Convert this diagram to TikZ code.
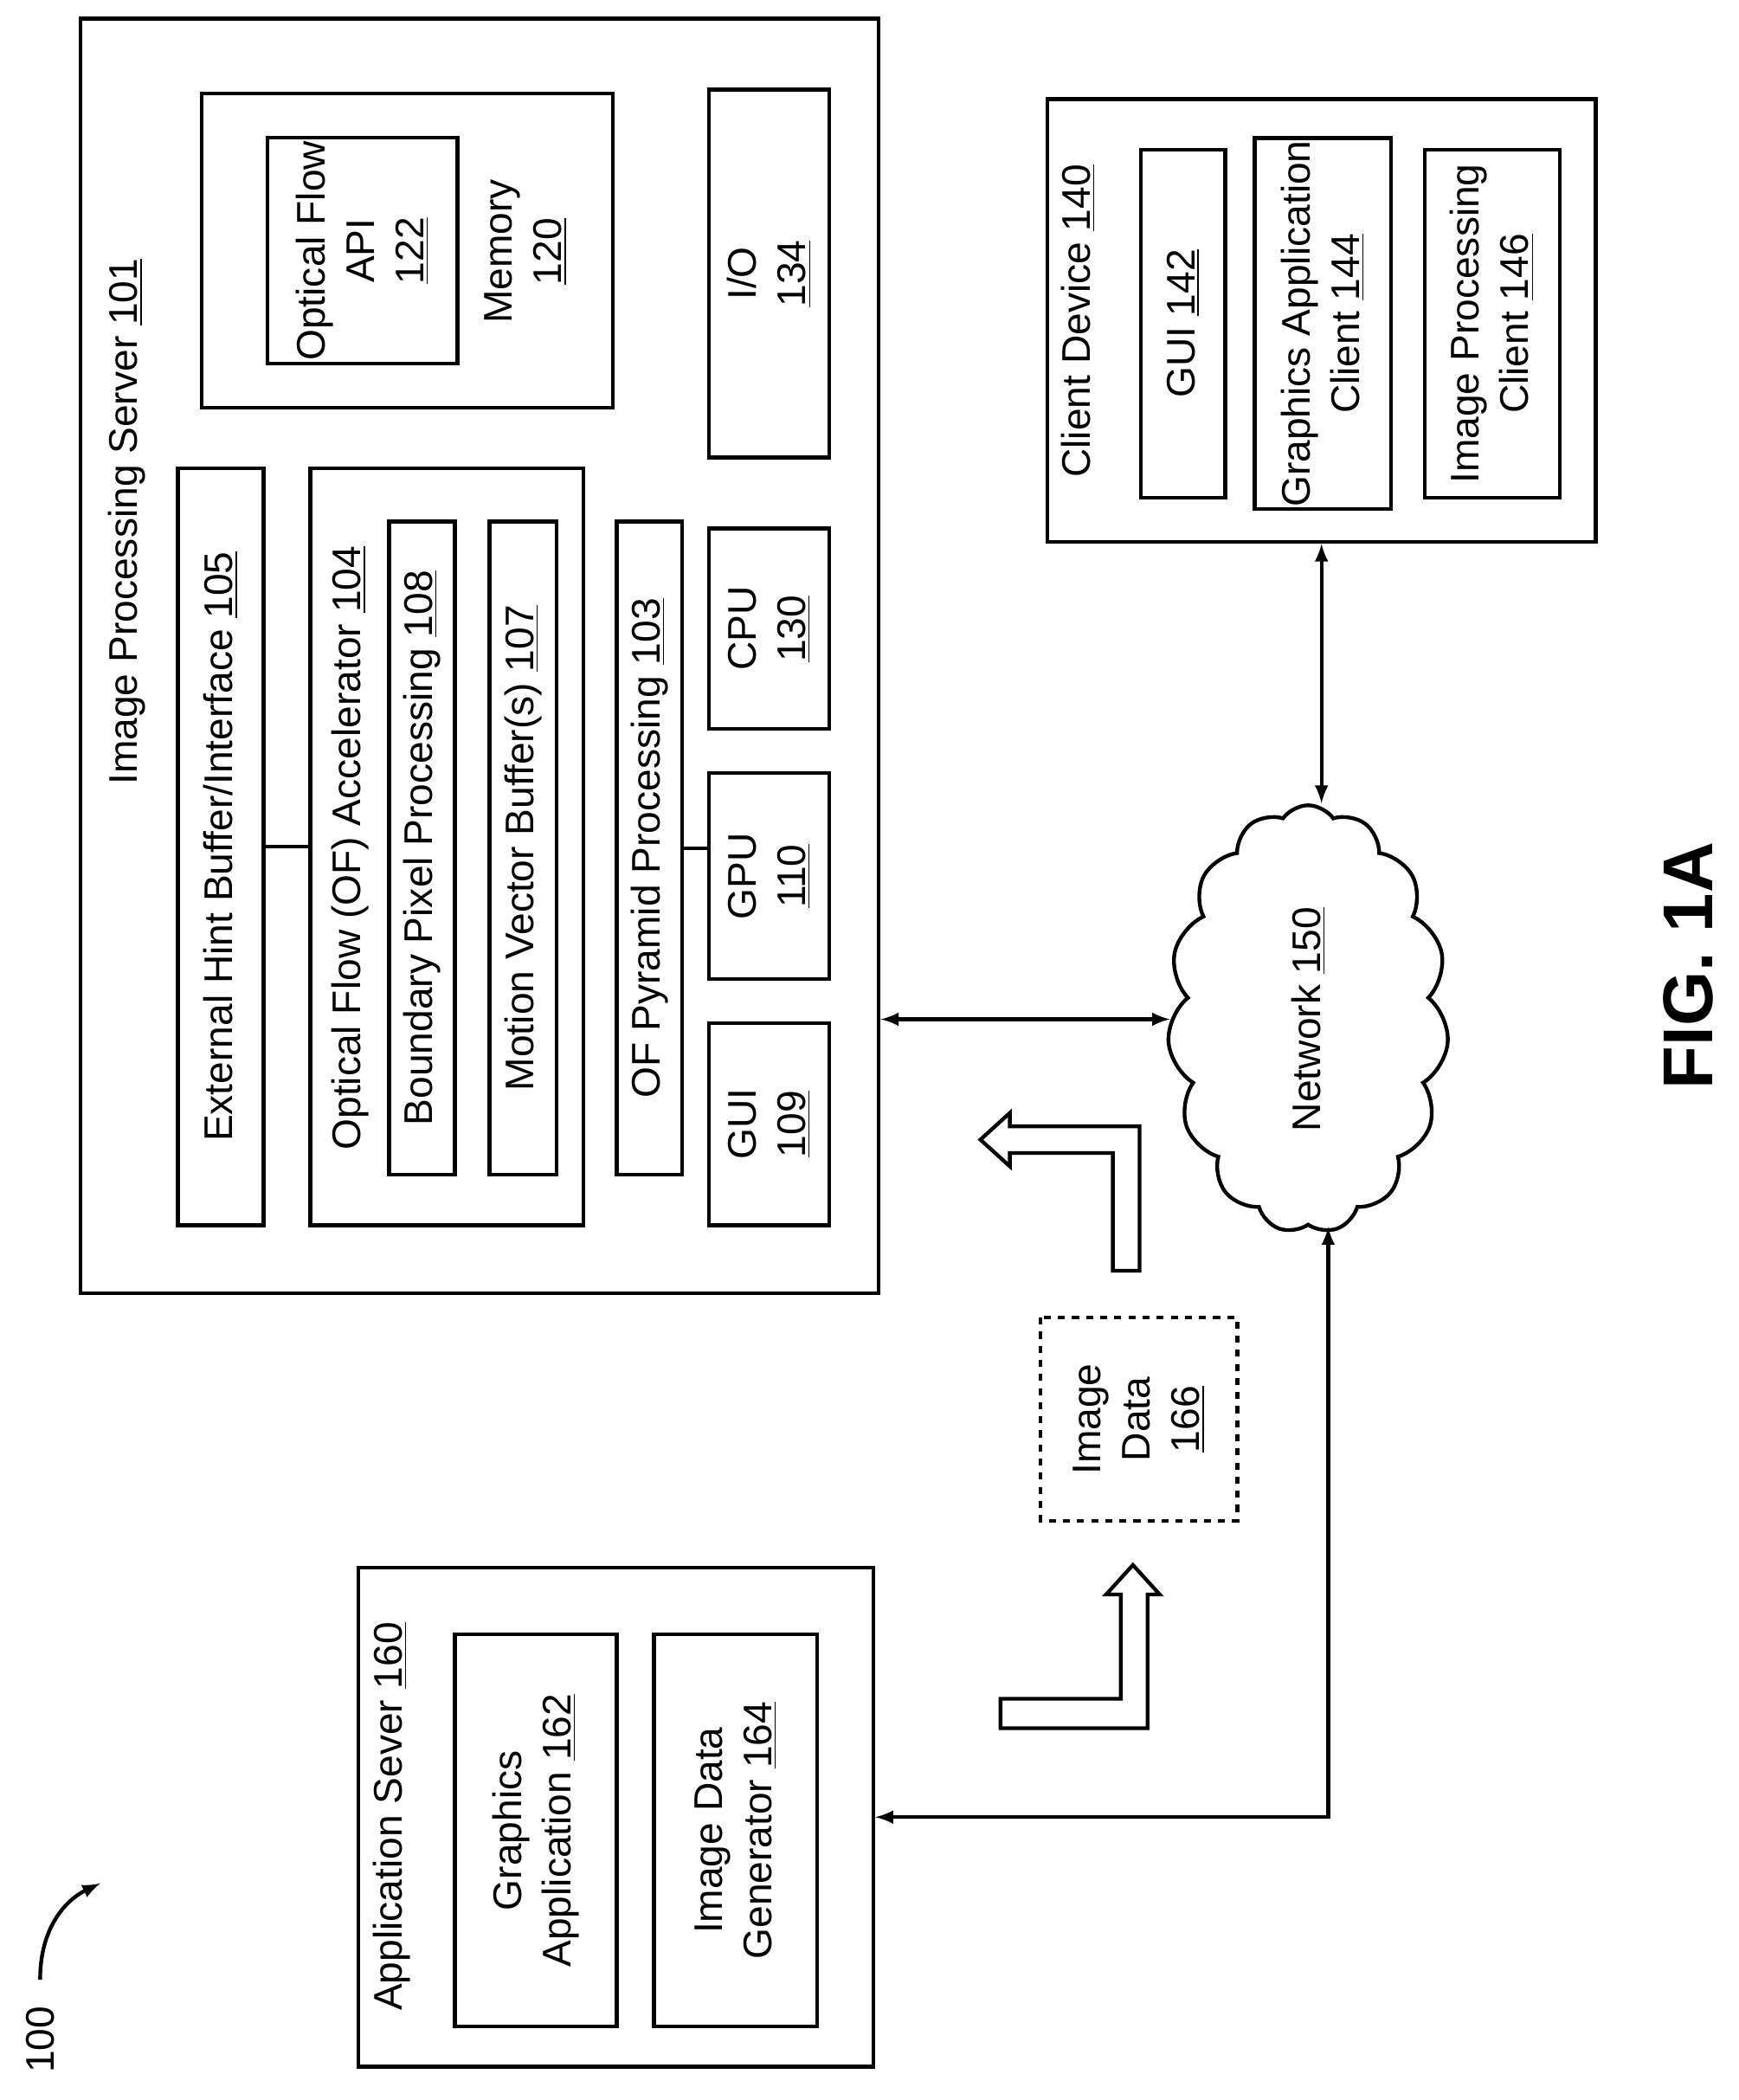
\documentclass[tikz,border=0pt]{standalone}
\usepackage{fontspec}
\setmainfont{Liberation Sans}
\usetikzlibrary{shapes.symbols}
\tikzset{
  box/.style={draw, line width=1.6pt, rotate=90, align=center, inner sep=1pt,
    font=\fontsize{17}{21}\selectfont},
  lbl/.style={rotate=90, align=center, font=\fontsize{17}{21}\selectfont},
  link/.style={line width=1.6pt},
  blk/.style={draw, line width=1.6pt, fill=white},
}
% box from corners (x1,y1)-(x2,y2) in reference pixels
\newcommand{\bx}[7][]{%
  \pgfmathsetmacro{\bw}{(#5-#3)*0.02}%
  \pgfmathsetmacro{\bh}{(#6-#4)*0.02}%
  \node[box, #1, minimum width=\bh cm, minimum height=\bw cm]
    (#2) at ({(#3+#5)/2},{(#4+#6)/2}) {#7};}
\begin{document}
\begin{tikzpicture}[x=0.02cm, y=-0.02cm, >=latex]
\useasboundingbox (0,0) rectangle (1300,1570);

% image processing server
\bx{srv}{60}{14}{657}{967}{}
\node[lbl] (srv-l) at (95,390) {Image Processing Server \underline{101}};
\bx{ext}{133}{350}{197}{916}{External Hint Buffer/Interface \underline{105}}
\bx{ofa}{232}{350}{436}{916}{}
\node[lbl] (ofa-l) at (262,634) {Optical Flow (OF) Accelerator \underline{104}};
\bx{bpp}{291}{390}{340}{878}{Boundary Pixel Processing \underline{108}}
\bx{mvb}{366}{390}{416}{878}{Motion Vector Buffer(s) \underline{107}}
\bx{pyr}{461}{390}{510}{878}{OF Pyramid Processing \underline{103}}
\bx{cpu}{530}{395}{620}{545}{CPU\\\underline{130}}
\bx{gpu}{530}{578}{620}{732}{GPU\\\underline{110}}
\bx{gui}{530}{765}{620}{916}{GUI\\\underline{109}}
\bx{mem}{151}{70}{458}{305}{}
\node[lbl] (mem-l) at (393,188) {Memory\\\underline{120}};
\bx{api}{200}{103}{342}{272}{Optical Flow\\API\\\underline{122}}
\bx{io}{530}{67}{620}{342}{I/O\\\underline{134}}

\draw[link] (ext.south) -- (ofa.north);
\draw[link] (pyr.south) -- (gpu.north |- pyr.south);

% client device
\bx{cli}{783}{74}{1193}{405}{}
\node[lbl] (cli-l) at (806,240) {Client Device \underline{140}};
\bx{cgui}{853}{112}{916}{372}{GUI \underline{142}}
\bx{gac}{938}{112}{1040}{372}{Graphics Application\\Client \underline{144}}
\bx{ipc}{1065}{112}{1166}{372}{Image Processing\\Client \underline{146}}

% network
\node[cloud, draw, line width=1.6pt, cloud puffs=15, cloud puff arc=110,
  minimum width=4.2cm, minimum height=6.4cm] (net) at (978,762) {};
\node[lbl] (net-l) at (net.center) {Network \underline{150}};

% application server
\bx{app}{268}{1172}{653}{1545}{}
\node[lbl] (app-l) at (293,1358) {Application Sever \underline{160}};
\bx{gap}{340}{1222}{461}{1515}{Graphics\\Application \underline{162}}
\bx{idg}{489}{1222}{611}{1515}{Image Data\\Generator \underline{164}}

% image data
\bx[dashed]{img}{778}{985}{925}{1137}{Image\\Data\\\underline{166}}

% connectors
\draw[link, <->] (srv.south |- net.west) -- (net.west);
\draw[link, <->] (cli.west) -- (cli.west |- net.north);
\draw[link, <->] (app.south) -| ([xshift=0.3cm]net.south);

% block arrows
\draw[blk] (748,1270) -- (838,1270) -- (838,1192) -- (827,1192) -- (847,1170)
  -- (867,1192) -- (858,1192) -- (858,1292) -- (748,1292) -- cycle;
\draw[blk] (832,950) -- (832,862) -- (755,862) -- (755,872) -- (733,852)
  -- (755,832) -- (755,842) -- (852,842) -- (852,950) -- cycle;

% reference numeral
\node[lbl] (ref) at (30,1525) {100};
\draw[link, ->] (30,1480) .. controls (30,1440) and (50,1420) .. (75,1408);
\node[lbl, font=\bfseries\fontsize{30}{34}\selectfont] (fig) at (1262,722) {FIG. 1A};
\end{tikzpicture}
\end{document}
